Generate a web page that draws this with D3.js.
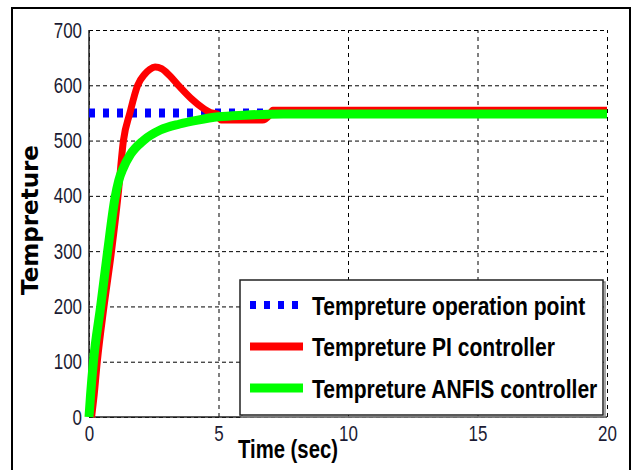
<!DOCTYPE html>
<html lang="en">
<head>
<meta charset="utf-8">
<title>Tempreture response</title>
<script src="https://cdnjs.cloudflare.com/ajax/libs/d3/7.8.5/d3.min.js"></script>
<style>
  body { margin: 0; background: #fff; }
  .tick text { font-family: "Liberation Sans", Arial, sans-serif; font-size: 22px; fill: #1b1b33; }
  .grid line { stroke: #000; stroke-width: 1; stroke-dasharray: 4,3; }
  .grid .domain { display: none; }
  .line { fill: none; stroke-linejoin: round; stroke-linecap: butt; }
  .label { font-family: "Liberation Sans", Arial, sans-serif; font-weight: bold; fill: #000; }
</style>
</head>
<body>
<script>
// values
var xTicks = [0, 5, 10, 15, 20];
var yTicks = [0, 100, 200, 300, 400, 500, 600, 700];

var opTime = [0, 20];
var opTemp = [550, 550];

var piTime = [0.1, 0.2, 0.32, 0.58, 0.87, 1.12, 1.33, 1.58, 1.88, 2.15, 2.35, 2.55, 2.8, 3.1, 3.45, 3.97, 4.36, 4.68, 4.95, 5.1, 6.7, 6.95, 7.1, 10, 20];
var piTemp = [0, 40, 100, 200, 300, 400, 500, 550, 600, 620, 629, 633, 630, 618, 600, 575, 560, 551, 548, 537, 537, 545, 555, 555, 555];

var anfisTime = [0, 0.06, 0.17, 0.45, 0.72, 1.0, 1.15, 1.32, 1.6, 2.1, 2.75, 3.5, 4.2, 5.0, 6.0, 7.5, 10, 20];
var anfisTemp = [0, 40, 100, 200, 300, 395, 428, 450, 475, 500, 519, 530, 537, 543, 546, 548, 548, 548];

var legendLabels = ["Tempreture operation point", "Tempreture PI controller", "Tempreture ANFIS controller"];

var margin = {top: 30, right: 27, bottom: 53, left: 89},
    width = 634 - margin.left - margin.right,
    height = 470 - margin.top - margin.bottom;

// the reference uses a narrow face; squeeze the regular one
function narrow(sel, xPos, k) {
  k = k || 0.8;
  sel.attr("transform", "scale(" + k + ",1)")
     .attr("x", xPos / k);
}

var svg = d3.select("body").append("svg")
    .attr("width", 634)
    .attr("height", 470);

// outer frame of the figure
svg.append("rect")
    .attr("x", 12).attr("y", 8)
    .attr("width", 618).attr("height", 480)
    .attr("fill", "none")
    .attr("stroke", "#000")
    .attr("stroke-width", 2);

var g = svg.append("g")
    .attr("transform", "translate(" + margin.left + "," + margin.top + ")");

var x = d3.scaleLinear().domain([0, 20]).range([0, width]);
var y = d3.scaleLinear().domain([0, 700]).range([height, 0]);

// dashed grid
g.append("g").attr("class", "grid")
    .call(d3.axisLeft(y).tickValues(yTicks).tickSize(-width).tickFormat(""));
g.append("g").attr("class", "grid")
    .attr("transform", "translate(0," + height + ")")
    .call(d3.axisBottom(x).tickValues(xTicks).tickSize(-height).tickFormat(""))
    .selectAll("line").style("stroke-dasharray", "4,4");

// tick labels
var yAxis = g.append("g")
    .call(d3.axisLeft(y).tickValues(yTicks).tickSize(0));
yAxis.select(".domain").remove();
yAxis.selectAll("text").call(narrow, -7, 0.77);

var xAxis = g.append("g")
    .attr("transform", "translate(0," + height + ")")
    .call(d3.axisBottom(x).tickValues(xTicks).tickSize(0).tickPadding(8));
xAxis.select(".domain").remove();
xAxis.selectAll("text").call(narrow, 0, 0.77);

// solid left and bottom axis lines
g.append("line")
    .attr("x1", x(0)).attr("x2", x(0))
    .attr("y1", y(700)).attr("y2", y(0))
    .attr("stroke", "#222").attr("stroke-width", 1.5);
g.append("line")
    .attr("x1", x(0)).attr("x2", x(20))
    .attr("y1", y(0)).attr("y2", y(0))
    .attr("stroke", "#222").attr("stroke-width", 1.5);

var line = d3.line()
    .x(function(d) { return x(d[0]); })
    .y(function(d) { return y(d[1]); })
    .curve(d3.curveMonotoneX);

g.append("path")
    .datum(d3.zip(opTime, opTemp))
    .attr("class", "line")
    .attr("stroke", "#0000ff")
    .attr("stroke-width", 9)
    .attr("stroke-dasharray", "6,8")
    .attr("d", line);

g.append("path")
    .datum(d3.zip(piTime, piTemp))
    .attr("class", "line")
    .attr("stroke", "#ff0000")
    .attr("stroke-width", 7)
    .attr("d", line);

g.append("path")
    .datum(d3.zip(anfisTime, anfisTemp))
    .attr("class", "line")
    .attr("stroke", "#00ff00")
    .attr("stroke-width", 9)
    .attr("d", line);

// axis titles
svg.append("text")
    .attr("class", "label")
    .attr("y", 458)
    .attr("text-anchor", "middle")
    .style("font-size", "26px")
    .text("Time (sec)")
    .call(narrow, 288, 0.78);

svg.append("text")
    .attr("transform", "translate(38,220) rotate(-90)")
    .attr("text-anchor", "middle")
    .style("font-family", "'DejaVu Sans', Verdana, sans-serif")
    .style("font-weight", "bold")
    .style("font-size", "23px")
    .text("Tempreture");

// legend
var legend = g.append("g").attr("transform", "translate(151,250)");
legend.append("rect")
    .attr("x", 2).attr("y", 2).attr("width", 363).attr("height", 135)
    .attr("fill", "none").attr("stroke", "#888").attr("stroke-width", 1.5);
legend.append("rect")
    .attr("width", 363).attr("height", 135)
    .attr("fill", "#fff").attr("stroke", "#222").attr("stroke-width", 1.5);

var swatches = [
  {color: "#0000ff", width: 8, dash: "6,8"},
  {color: "#ff0000", width: 8, dash: null},
  {color: "#00ff00", width: 9, dash: null}
];

legendLabels.forEach(function(label, i) {
  var cy = 25 + i * 41.5;
  legend.append("line")
      .attr("x1", 10).attr("x2", 63)
      .attr("y1", cy).attr("y2", cy)
      .attr("stroke", swatches[i].color)
      .attr("stroke-width", swatches[i].width)
      .attr("stroke-dasharray", swatches[i].dash);
  legend.append("text")
      .attr("class", "label")
      .attr("y", cy + 10)
      .style("font-size", "26px")
      .text(label)
      .call(narrow, 72, 0.81);
});
</script>
</body>
</html>
